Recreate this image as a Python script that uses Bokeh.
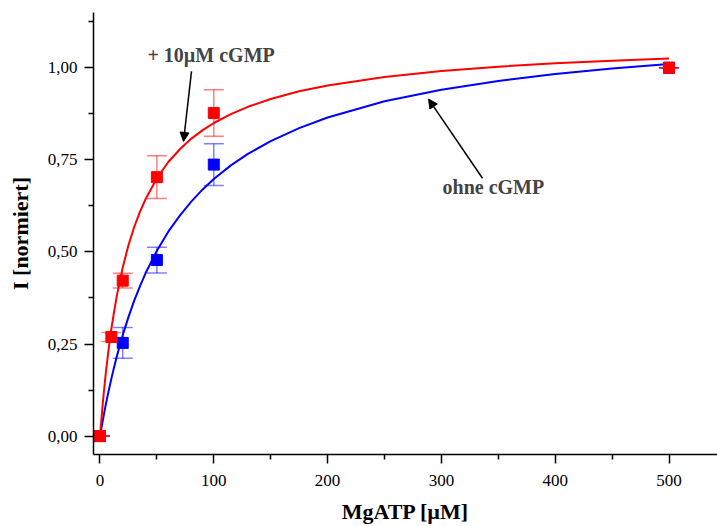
from bokeh.plotting import figure
from bokeh.models import (ColumnDataSource, Whisker, TeeHead, Arrow, NormalHead,
                          Label, FixedTicker, CustomJSTickFormatter, Range1d)
from bokeh.embed import file_html
from bokeh.resources import INLINE

# ---- data ----
x_cgmp = [0, 10, 20, 50, 100, 500]
y_cgmp = [0.0, 0.269, 0.422, 0.703, 0.877, 1.0]
e_cgmp = [0.0, 0.012, 0.02, 0.058, 0.063, 0.0]

x_ohne = [0, 20, 50, 100, 500]
y_ohne = [0.0, 0.253, 0.478, 0.737, 1.0]
e_ohne = [0.0, 0.042, 0.035, 0.057, 0.0]

# fitted curves
fit_x = [0, 2.5, 5, 7.5, 10, 12.5, 15, 20, 25, 30, 35, 40, 50, 60, 70, 80, 90, 100,
         115, 130, 150, 175, 200, 250, 300, 350, 400, 450, 500]
fit_cgmp = [0.0, 0.091, 0.168, 0.234, 0.291, 0.340, 0.384, 0.458, 0.518, 0.567, 0.608,
            0.643, 0.700, 0.744, 0.778, 0.807, 0.830, 0.850, 0.874, 0.894, 0.915, 0.936,
            0.952, 0.975, 0.991, 1.003, 1.012, 1.019, 1.025]
fit_ohne = [0.0, 0.043, 0.084, 0.121, 0.156, 0.188, 0.219, 0.274, 0.323, 0.367, 0.406,
            0.442, 0.503, 0.555, 0.598, 0.636, 0.669, 0.698, 0.735, 0.766, 0.801, 0.836,
            0.865, 0.909, 0.940, 0.964, 0.983, 0.998, 1.010]

x_ticks = [0, 100, 200, 300, 400, 500]
x_minor = [50, 150, 250, 350, 450]
y_ticks = [0.0, 0.25, 0.5, 0.75, 1.0]
y_minor = [0.125, 0.375, 0.625, 0.875, 1.125]

RED = "#ff0000"
BLUE = "#0000ff"
SERIF = "Liberation Serif"

p = figure(width=717, height=526, output_backend="svg", toolbar_location=None,
           x_range=Range1d(-5.7, 542.6), y_range=Range1d(-0.05, 1.15),
           min_border_left=93, min_border_right=0, min_border_top=12, min_border_bottom=70)
p.outline_line_color = None
p.xgrid.visible = False
p.ygrid.visible = False
p.background_fill_color = "white"
p.border_fill_color = "white"

# curves
p.line(fit_x, fit_ohne, line_color=BLUE, line_width=2)
p.line(fit_x, fit_cgmp, line_color=RED, line_width=2)

src_o = ColumnDataSource(dict(x=x_ohne, y=y_ohne,
                              lo=[a - b for a, b in zip(y_ohne, e_ohne)],
                              hi=[a + b for a, b in zip(y_ohne, e_ohne)]))
src_c = ColumnDataSource(dict(x=x_cgmp, y=y_cgmp,
                              lo=[a - b for a, b in zip(y_cgmp, e_cgmp)],
                              hi=[a + b for a, b in zip(y_cgmp, e_cgmp)]))

for src, col in ((src_o, BLUE), (src_c, RED)):
    w = Whisker(source=src, base="x", lower="lo", upper="hi",
                line_color=col, line_alpha=0.5, line_width=1.5,
                upper_head=TeeHead(size=20, line_color=col, line_alpha=0.5, line_width=1.5),
                lower_head=TeeHead(size=20, line_color=col, line_alpha=0.5, line_width=1.5))
    p.add_layout(w)

p.scatter("x", "y", source=src_o, marker="square", size=11, fill_color=BLUE, line_color=BLUE)
p.scatter("x", "y", source=src_c, marker="square", size=11, fill_color=RED, line_color=RED)

# annotations
p.add_layout(Label(x=41.7, y=1.035, text="+ 10µM cGMP", text_font=SERIF, text_font_style="bold",
                   text_font_size="20px", text_baseline="middle", text_align="left"))
p.add_layout(Label(x=301, y=0.675, text="ohne cGMP", text_font=SERIF, text_font_style="bold",
                   text_font_size="20px", text_baseline="middle", text_align="left"))
p.add_layout(Arrow(x_start=80.4, y_start=0.99, x_end=73.4, y_end=0.80, line_width=1.5,
                   end=NormalHead(size=9, fill_color="black", line_color="black")))
p.add_layout(Arrow(x_start=336.1, y_start=0.70, x_end=288.7, y_end=0.915, line_width=1.5,
                   end=NormalHead(size=9, fill_color="black", line_color="black")))

# axes
p.xaxis.ticker = FixedTicker(ticks=x_ticks, minor_ticks=x_minor)
p.yaxis.ticker = FixedTicker(ticks=y_ticks, minor_ticks=y_minor)
p.yaxis.formatter = CustomJSTickFormatter(code="return tick.toFixed(2).replace('.', ',');")
p.xaxis.axis_label = "MgATP [µM]"
p.yaxis.axis_label = "I [normiert]"
for ax in (p.xaxis[0], p.yaxis[0]):
    ax.axis_line_width = 1.5
    ax.major_tick_line_width = 1.5
    ax.minor_tick_line_width = 1.5
    ax.major_tick_out = 9
    ax.major_tick_in = 0
    ax.minor_tick_out = 5
    ax.minor_tick_in = 0
    ax.major_label_text_font = SERIF
    ax.major_label_text_font_size = "17px"
    ax.major_label_text_color = "black"
    ax.axis_label_text_font = SERIF
    ax.axis_label_text_font_size = "22px"
    ax.axis_label_text_font_style = "bold"
    ax.axis_label_text_color = "black"
p.xaxis.major_label_standoff = 11
p.xaxis.axis_label_standoff = 10
p.yaxis.major_label_standoff = 7
p.yaxis.axis_label_standoff = 12

open("out.html", "w").write(file_html(p, INLINE))
